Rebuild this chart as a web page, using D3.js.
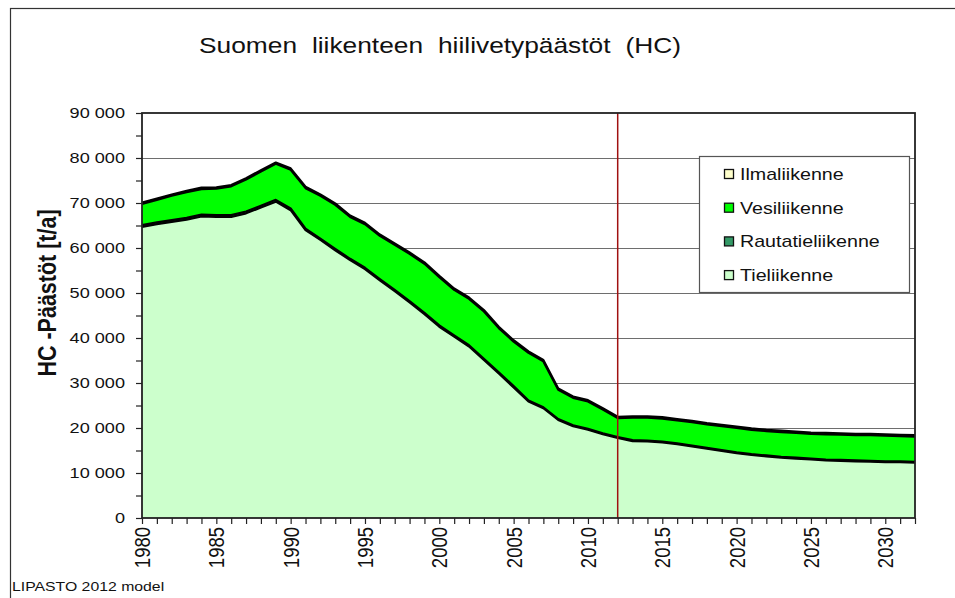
<!DOCTYPE html>
<html>
<head>
<meta charset="utf-8">
<script src="https://cdn.jsdelivr.net/npm/d3@7"></script>
<style>
  body { margin: 0; background: #fff; }
  text { font-family: "Liberation Sans", Arial, sans-serif; }
</style>
</head>
<body>
<script>
// years 1980..2032, values in t/a
const years = d3.range(1980, 2033)
const tie = [64700, 65300, 65800, 66300, 67000, 66900, 66900, 67700, 69000, 70300,
  68400, 64000, 61800, 59500, 57300, 55300, 52800, 50400, 47900, 45300,
  42500, 40300, 38100, 35100, 32100, 29000, 25900, 24400, 21800, 20400,
  19600, 18600, 17800, 17100, 17000, 16800, 16400, 15900, 15400, 14900,
  14400, 14000, 13700, 13400, 13200, 13000, 12800, 12700, 12600, 12500,
  12400, 12400, 12300]
const rautatie = [400, 400, 400, 400, 400, 400, 400, 400, 400, 400,
  400, 300, 300, 300, 300, 300, 300, 300, 300, 300,
  300, 300, 300, 300, 300, 300, 200, 200, 200, 200,
  200, 200, 200, 200, 200, 200, 200, 200, 200, 200,
  200, 200, 200, 200, 200, 200, 200, 200, 200, 200,
  200, 200, 200]
const vesi = [4700, 5000, 5400, 5700, 5700, 5900, 6400, 7100, 7600, 8000,
  8600, 9000, 9500, 9800, 9300, 9700, 9600, 10000, 10500, 10900,
  10700, 10100, 10300, 10500, 9800, 9900, 10600, 10200, 6500, 6100,
  6100, 5300, 4200, 5000, 5100, 5100, 5100, 5200, 5200, 5300,
  5400, 5400, 5400, 5500, 5500, 5500, 5600, 5600, 5600, 5700,
  5700, 5600, 5600]
const ilma = [300, 300, 300, 300, 300, 300, 300, 300, 300, 300,
  300, 300, 300, 300, 300, 300, 300, 300, 300, 300,
  300, 300, 300, 300, 300, 300, 300, 300, 300, 300,
  300, 300, 300, 300, 300, 300, 300, 300, 300, 300,
  300, 300, 300, 300, 300, 300, 300, 300, 300, 300,
  300, 300, 300]

const seriesNames = ['Tieliikenne', 'Rautatieliikenne', 'Vesiliikenne', 'Ilmaliikenne']
const seriesColors = ['#ccffcc', '#339966', '#00ff00', '#ffffcc']
const yTicks = [0, 10000, 20000, 30000, 40000, 50000, 60000, 70000, 80000, 90000]
const xLabelYears = [1980, 1985, 1990, 1995, 2000, 2005, 2010, 2015, 2020, 2025, 2030]
const forecastStart = 2012

const width = 955
const height = 598
const plot = {left: 142, right: 915, top: 113, bottom: 518}
// the original picture is a bit wider than tall, text looks stretched
const sx = 1.17

const table = years.map((y, i) => ({
  year: y,
  Tieliikenne: tie[i],
  Rautatieliikenne: rautatie[i],
  Vesiliikenne: vesi[i],
  Ilmaliikenne: ilma[i]
}))

const svg = d3.select('body').append('svg')
  .attr('width', width)
  .attr('height', height)

// outer chart frame (runs off right and bottom)
svg.append('rect')
  .attr('x', 10.5).attr('y', 8.5)
  .attr('width', 1000).attr('height', 700)
  .attr('fill', 'none').attr('stroke', '#333').attr('stroke-width', 1.2)

const xScale = d3.scaleLinear().domain([1980, 2032]).range([plot.left, plot.right])
const yScale = d3.scaleLinear().domain([0, 90000]).range([plot.bottom, plot.top])

const fiLocale = d3.formatLocale({decimal: ',', thousands: '\u00a0', grouping: [3], currency: ['', '']})
const fmt = fiLocale.format(',')

// gridlines
svg.append('g')
  .selectAll('line').data(yTicks.slice(1, -1)).join('line')
  .attr('x1', plot.left).attr('x2', plot.right)
  .attr('y1', (d) => yScale(d) + 0.5).attr('y2', (d) => yScale(d) + 0.5)
  .attr('stroke', '#6e6e6e').attr('stroke-width', 1.2)

const stack = d3.stack().keys(seriesNames)
const layers = stack(table)

const area = d3.area()
  .x((d) => xScale(d.data.year))
  .y0((d) => yScale(d[0]))
  .y1((d) => yScale(d[1]))

const topLine = d3.line()
  .x((d) => xScale(d.data.year))
  .y((d) => yScale(d[1]))

svg.append('g').selectAll('path').data(layers).join('path')
  .attr('d', area)
  .attr('fill', (d, i) => seriesColors[i])

svg.append('g').selectAll('path').data(layers).join('path')
  .attr('d', topLine)
  .attr('fill', 'none')
  .attr('stroke', '#000')
  .attr('stroke-width', 2.2)
  .attr('stroke-linejoin', 'round')

// forecast marker
svg.append('line')
  .attr('x1', xScale(forecastStart)).attr('x2', xScale(forecastStart))
  .attr('y1', plot.top).attr('y2', plot.bottom)
  .attr('stroke', '#a01010').attr('stroke-width', 1.5)

// plot frame
svg.append('rect')
  .attr('x', plot.left).attr('y', plot.top)
  .attr('width', plot.right - plot.left).attr('height', plot.bottom - plot.top)
  .attr('fill', 'none').attr('stroke', '#222').attr('stroke-width', 1.8)

// y axis
const yAxis = d3.axisLeft(yScale)
  .tickValues(d3.range(0, 90001, 5000))
  .tickSize(6)
  .tickFormat((d) => (d % 10000 === 0 ? fmt(d) : ''))
const gy = svg.append('g')
  .attr('transform', `translate(${plot.left},0)`)
  .call(yAxis)
gy.select('.domain').remove()
gy.selectAll('.tick line').attr('stroke', '#222').attr('stroke-width', 1.2)
gy.selectAll('.tick text')
  .attr('x', -17 / sx)
  .attr('transform', `scale(${sx},1)`)
  .attr('font-size', 15.5)
  .attr('fill', '#111')
  .style('font-family', '"Liberation Sans", Arial, sans-serif')

// x axis
const xAxis = d3.axisBottom(xScale)
  .tickValues(years)
  .tickSize(6)
  .tickFormat((d) => (xLabelYears.includes(d) ? d : ''))
const gx = svg.append('g')
  .attr('transform', `translate(0,${plot.bottom})`)
  .call(xAxis)
gx.select('.domain').remove()
gx.selectAll('.tick line').attr('stroke', '#222').attr('stroke-width', 1.2)
gx.selectAll('.tick text')
  .attr('transform', `scale(${sx},1) rotate(-90)`)
  .attr('x', -9)
  .attr('y', 0)
  .attr('dy', '0.35em')
  .attr('text-anchor', 'end')
  .attr('font-size', 18.5)
  .attr('fill', '#111')
  .style('font-family', '"Liberation Sans", Arial, sans-serif')

// title
svg.append('text')
  .attr('transform', `translate(440,53) scale(${sx},1)`)
  .attr('text-anchor', 'middle')
  .attr('font-size', 22.5)
  .attr('word-spacing', 6.5)
  .attr('fill', '#111')
  .text('Suomen liikenteen hiilivetypäästöt (HC)')

// y axis title
svg.append('text')
  .attr('transform', `translate(56,293) scale(${sx},1) rotate(-90)`)
  .attr('text-anchor', 'middle')
  .attr('font-size', 21.5)
  .attr('font-weight', 'bold')
  .attr('fill', '#111')
  .text('HC -Päästöt [t/a]')

// footer
svg.append('text')
  .attr('transform', `translate(12,591) scale(${sx},1)`)
  .attr('font-size', 13.5)
  .attr('fill', '#111')
  .text('LIPASTO 2012 model')

// legend
const legend = svg.append('g')
legend.append('rect')
  .attr('x', 699.5).attr('y', 156.5)
  .attr('width', 210).attr('height', 136)
  .attr('fill', '#fff').attr('stroke', '#555').attr('stroke-width', 1.2)
const legendItems = seriesNames.map((n, i) => ({name: n, color: seriesColors[i]})).reverse()
const row = legend.selectAll('g.item').data(legendItems).join('g')
  .attr('class', 'item')
  .attr('transform', (d, i) => `translate(724,${174 + i * 33.7})`)
row.append('rect')
  .attr('x', 0.5).attr('y', -4.5)
  .attr('width', 9).attr('height', 9)
  .attr('fill', (d) => d.color).attr('stroke', '#111').attr('stroke-width', 1.3)
row.append('text')
  .attr('transform', `translate(16,0) scale(${sx},1)`)
  .attr('dy', '0.35em')
  .attr('font-size', 16.8)
  .attr('fill', '#111')
  .text((d) => d.name)
</script>
</body>
</html>
